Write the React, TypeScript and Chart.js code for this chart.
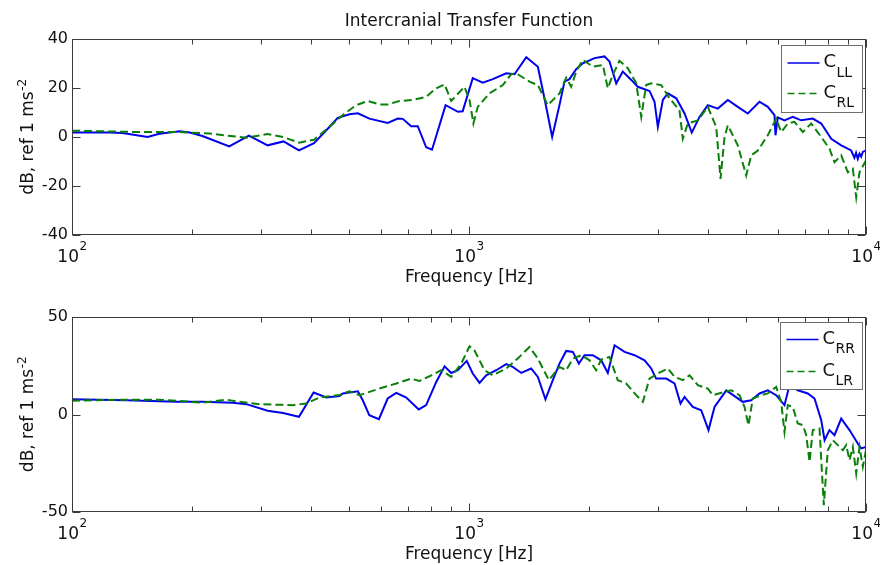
import React, { useEffect, useRef } from "react";
import { Chart, registerables } from "chart.js";

Chart.register(...registerables);

// ---------------- data ----------------
const TITLE = "Intercranial Transfer Function";
const X_LABEL = "Frequency [Hz]";
const Y_LABEL = "dB, ref 1 ms";
const Y_LABEL_SUP = "-2";

const X_MIN = 100;
const X_MAX = 10000;
const X_MAJOR_TICKS = [100, 1000, 10000];
const X_MAJOR_BASE = "10";
const X_MAJOR_EXP = ["2", "3", "4"];
const X_MINOR_TICKS = [200, 300, 400, 500, 600, 700, 800, 900, 2000, 3000, 4000, 5000, 6000, 7000, 8000, 9000];

const TOP_Y_TICKS = [-40, -20, 0, 20, 40];
const BOTTOM_Y_TICKS = [-50, 0, 50];

// Top plot: C_LL (solid blue) and C_RL (dashed green)
const cllFreq = [100, 124, 134, 155, 166, 187, 198, 213, 249, 279, 311, 341, 373, 407, 445, 467, 500, 525, 561, 624, 662, 681, 715, 743, 780, 807, 873, 938, 964, 1022, 1083, 1148, 1241, 1302, 1394, 1491, 1549, 1620, 1690, 1740, 1791, 1862, 1935, 2071, 2194, 2259, 2349, 2440, 2563, 2662, 2849, 2933, 2990, 3078, 3168, 3327, 3491, 3641, 3807, 3995, 4234, 4487, 4754, 5038, 5392, 5657, 5882, 5916, 5995, 6232, 6540, 6868, 7345, 7714, 8174, 8661, 9177, 9350, 9440, 9535, 9630, 9725, 9817, 10000];
const cllDb = [1.8, 1.8, 1.6, 0, 1.3, 2.3, 1.8, 0.4, -3.8, 0.6, -3.4, -1.8, -5.5, -2.5, 4.1, 7.8, 9.3, 9.7, 7.5, 5.7, 7.5, 7.4, 4.4, 4.4, -4.2, -5.2, 13, 10.3, 10.5, 24, 22.2, 23.6, 26, 25.6, 32.6, 28.7, 15.8, 0, 13, 22.6, 23.6, 27.7, 30.1, 32.2, 32.9, 30.8, 21.9, 26.7, 23.3, 20.5, 18.8, 14.4, 4.1, 15.1, 17.8, 15.8, 9.6, 1.8, 8.2, 13, 11.6, 15.1, 12.3, 9.6, 14.4, 12.3, 8.9, 0.7, 8, 6.8, 8.2, 6.8, 7.5, 5.5, -0.7, -3.4, -5.5, -8.5, -6.5, -8.9, -6.8, -8, -6.1, -5.5];

const crlFreq = [100, 137, 187, 222, 275, 311, 340, 373, 407, 445, 481, 520, 556, 595, 624, 668, 722, 780, 827, 868, 902, 974, 1003, 1026, 1052, 1126, 1217, 1277, 1315, 1420, 1491, 1579, 1690, 1757, 1809, 1862, 1935, 2050, 2173, 2237, 2302, 2393, 2512, 2638, 2716, 2794, 2876, 3049, 3199, 3390, 3456, 3557, 3771, 3995, 4195, 4301, 4402, 4487, 4754, 4991, 5139, 5341, 5657, 5940, 6114, 6353, 6605, 6932, 7278, 7714, 8091, 8330, 8661, 9000, 9265, 9448, 9630, 10000];
const crlDb = [2.6, 2.1, 2.0, 1.4, -0.3, 1.2, 0, -2.3, -1.1, 4.1, 9.0, 13, 14.7, 13.3, 13.3, 14.7, 15.1, 16.4, 19.9, 21.5, 14.7, 20.5, 15.1, 5.5, 12.3, 17.8, 21.2, 25.6, 26, 22.6, 21.2, 13, 17.8, 24.2, 20.5, 26.7, 31.5, 28.7, 29.4, 19.9, 25.3, 31.1, 28.1, 21.9, 8.2, 21.2, 21.9, 21.2, 15.8, 10.9, -0.7, 5.5, 6.8, 12.3, 4.1, -17.1, 0, 4.8, -3.4, -15.7, -7.5, -5.5, 0.7, 7.5, 2, 5.5, 6.2, 2, 5.5, 0, -4.8, -10.3, -7.5, -14.4, -13, -24.6, -14.4, -9.6];

// Bottom plot: C_RR (solid blue) and C_LR (dashed green)
const crrFreq = [100, 137, 183, 213, 254, 275, 311, 340, 373, 406, 437, 472, 481, 525, 540, 561, 593, 624, 656, 695, 747, 780, 827, 868, 902, 937, 987, 1022, 1063, 1105, 1171, 1241, 1289, 1354, 1434, 1491, 1558, 1626, 1690, 1757, 1826, 1891, 1954, 2050, 2153, 2237, 2326, 2465, 2612, 2768, 2877, 2961, 3138, 3294, 3410, 3491, 3662, 3845, 4011, 4154, 4446, 4665, 4894, 5139, 5392, 5657, 5940, 6232, 6416, 6733, 7135, 7419, 7714, 7864, 8091, 8330, 8661, 9087, 9535, 9725, 10000];
const crrDb = [7.8, 7.3, 6.5, 6.5, 6, 5.3, 1.9, 0.8, -1.2, 11.3, 8.7, 9.5, 10.8, 11.9, 7.3, -0.4, -2.4, 8.2, 11.1, 8.7, 2.6, 4.8, 16.7, 24.7, 21.3, 22.7, 27.5, 21, 16.2, 20.1, 22.7, 25.8, 24.4, 21.3, 23.6, 19.3, 7.8, 17.6, 26.1, 32.6, 32.1, 26.1, 30.4, 30.4, 27.8, 21.3, 35.5, 32.1, 30.4, 27.8, 23.6, 18.4, 18.4, 15.9, 5.6, 9, 3.9, 2.2, -8, 3.9, 12.4, 9.4, 6.5, 7.3, 10.8, 12.4, 9.9, 4.8, 15, 12.4, 10.8, 8.2, -2.9, -13.2, -8, -10.6, -2.1, -8, -14.9, -17.4, -16.6];

const clrFreq = [100, 137, 166, 213, 245, 264, 297, 360, 389, 420, 472, 500, 530, 595, 656, 715, 750, 795, 851, 902, 956, 1003, 1032, 1094, 1148, 1241, 1327, 1420, 1491, 1589, 1690, 1757, 1826, 1917, 2012, 2091, 2153, 2259, 2370, 2489, 2638, 2741, 2849, 2990, 3168, 3294, 3456, 3593, 3771, 3995, 4113, 4402, 4577, 4801, 4943, 5058, 5186, 5445, 5657, 5940, 6114, 6232, 6353, 6540, 6733, 6932, 7071, 7208, 7345, 7636, 7829, 8013, 8249, 8492, 8742, 8916, 9087, 9265, 9448, 9630, 9817, 10000];
const clrDb = [7.1, 7.6, 7.6, 6.1, 7.6, 6.5, 5.3, 4.8, 5.6, 8.7, 10, 11.9, 9.9, 13.3, 15.9, 18.4, 17.2, 19.6, 22.7, 19.3, 26.1, 35, 32.9, 22.7, 20.1, 23.6, 28.7, 34.6, 28.7, 17.6, 24.4, 22.7, 28.7, 30.4, 27.8, 22.7, 28.2, 29.5, 17.6, 15.9, 9.9, 6.5, 18.4, 21, 23.6, 19.3, 17.6, 20.1, 15, 13.3, 9.9, 11.6, 12.4, 9.9, 3.9, -5.5, 8.2, 9.9, 10.8, 14.1, 6.5, -8.9, 4.8, 3.9, -4.6, -5.5, -10.6, -24.3, -8, -7.2, -46.5, -18.3, -13.2, -15.7, -18.3, -15.7, -23.4, -16.6, -30.2, -16.6, -26.8, -18.3];

// ---------------- style ----------------
const FONT = '"DejaVu Sans", "Liberation Sans", Arial, sans-serif';
const BLUE = "#0000ee";
const GREEN = "#0a800a";
const AXIS_COLOR = "#3a3a3a";
const TEXT_COLOR = "#111111";

type Series = { name: string; sub: string; freq: number[]; db: number[]; color: string; dash: number[] };

type PlotSpec = {
  key: string;
  top: number;
  height: number;
  padTop: number;
  xHeight: number;
  yMin: number;
  yMax: number;
  yStep: number;
  yTicks: number[];
  title?: string;
  series: Series[];
  legend: { dx: number; dy: number; w: number; h: number; rows: number[] };
};

function makePlugin(spec: PlotSpec) {
  return {
    id: "matlabFrame_" + spec.key,
    afterDraw(chart: any) {
      const { ctx, chartArea: a } = chart;
      const xs = chart.scales.x;
      const ys = chart.scales.y;
      ctx.save();

      const L = Math.round(a.left) + 0.5;
      const R = Math.round(a.right) - 0.5;
      const T = Math.round(a.top) + 0.5;
      const B = Math.round(a.bottom) - 0.5;

      // axes box
      ctx.strokeStyle = AXIS_COLOR;
      ctx.lineWidth = 1;
      ctx.setLineDash([]);
      ctx.strokeRect(L, T, R - L, B - T);

      // tick marks (inward, both sides)
      ctx.beginPath();
      const xt = (v: number, len: number) => {
        const px = Math.round(xs.getPixelForValue(v)) + 0.5;
        ctx.moveTo(px, B);
        ctx.lineTo(px, B - len);
        ctx.moveTo(px, T);
        ctx.lineTo(px, T + len);
      };
      X_MINOR_TICKS.forEach((v) => xt(v, 5));
      X_MAJOR_TICKS.forEach((v) => xt(v, 8));
      spec.yTicks.forEach((v) => {
        const py = Math.round(ys.getPixelForValue(v)) + 0.5;
        ctx.moveTo(L, py);
        ctx.lineTo(L + 8, py);
        ctx.moveTo(R, py);
        ctx.lineTo(R - 8, py);
      });
      ctx.stroke();

      ctx.fillStyle = TEXT_COLOR;
      ctx.textBaseline = "alphabetic";
      ctx.textAlign = "left";

      // x tick labels 10^n
      X_MAJOR_TICKS.forEach((v, i) => {
        const px = xs.getPixelForValue(v);
        ctx.font = `17px ${FONT}`;
        const w1 = ctx.measureText(X_MAJOR_BASE).width;
        ctx.font = `12px ${FONT}`;
        const w2 = ctx.measureText(X_MAJOR_EXP[i]).width;
        const x0 = px - (w1 + w2) / 2;
        ctx.font = `17px ${FONT}`;
        ctx.fillText(X_MAJOR_BASE, x0, a.bottom + 27);
        ctx.font = `12px ${FONT}`;
        ctx.fillText(X_MAJOR_EXP[i], x0 + w1 + 0.5, a.bottom + 15);
      });

      // x axis label
      ctx.font = `17px ${FONT}`;
      ctx.textAlign = "center";
      ctx.fillText(X_LABEL, (a.left + a.right) / 2, a.bottom + 46.5);

      // title
      if (spec.title) {
        ctx.fillText(spec.title, (a.left + a.right) / 2, a.top - 13);
      }

      // y axis label (rotated, with superscript)
      ctx.save();
      ctx.translate(33, (a.top + a.bottom) / 2);
      ctx.rotate(-Math.PI / 2);
      ctx.textAlign = "left";
      ctx.font = `17px ${FONT}`;
      const m1 = ctx.measureText(Y_LABEL).width;
      ctx.font = `12px ${FONT}`;
      const m2 = ctx.measureText(Y_LABEL_SUP).width;
      const start = -(m1 + m2) / 2;
      ctx.font = `17px ${FONT}`;
      ctx.fillText(Y_LABEL, start, 0);
      ctx.font = `12px ${FONT}`;
      ctx.fillText(Y_LABEL_SUP, start + m1 + 0.5, -7.5);
      ctx.restore();

      // legend box
      const lg = spec.legend;
      const bx = Math.round(a.right - lg.dx) + 0.5;
      const by = Math.round(a.top + lg.dy) + 0.5;
      ctx.fillStyle = "#ffffff";
      ctx.fillRect(bx, by, lg.w, lg.h);
      ctx.strokeStyle = "#6e6e6e";
      ctx.lineWidth = 1;
      ctx.strokeRect(bx, by, lg.w, lg.h);
      spec.series.forEach((s, i) => {
        const ly = by + lg.rows[i];
        ctx.strokeStyle = s.color;
        ctx.lineWidth = 1.5;
        ctx.setLineDash(s.dash.length ? [7, 4] : []);
        ctx.beginPath();
        ctx.moveTo(bx + 6, ly);
        ctx.lineTo(bx + 38, ly);
        ctx.stroke();
        ctx.setLineDash([]);
        ctx.fillStyle = TEXT_COLOR;
        ctx.textAlign = "left";
        ctx.font = `18px ${FONT}`;
        ctx.fillText(s.name, bx + 42, ly + 4);
        const cw = ctx.measureText(s.name).width;
        ctx.font = `14px ${FONT}`;
        ctx.fillText(s.sub, bx + 42 + cw + 0.5, ly + 13.5);
      });

      ctx.restore();
    },
  };
}

function buildConfig(spec: PlotSpec): any {
  // draw the dashed (second) series on top of the solid one
  const ordered = [spec.series[1], spec.series[0]];
  return {
    type: "line",
    data: {
      datasets: ordered.map((s) => ({
        label: s.name + s.sub,
        data: s.freq.map((f, i) => ({ x: f, y: s.db[i] })),
        borderColor: s.color,
        backgroundColor: s.color,
        borderWidth: 2,
        borderDash: s.dash,
        pointRadius: 0,
        tension: 0,
        fill: false,
      })),
    },
    options: {
      animation: false,
      responsive: false,
      maintainAspectRatio: false,
      layout: { padding: { top: spec.padTop, right: 14, left: 0, bottom: 0 } },
      plugins: {
        legend: { display: false },
        tooltip: { enabled: false },
        title: { display: false },
      },
      scales: {
        x: {
          type: "logarithmic",
          min: X_MIN,
          max: X_MAX,
          grid: { display: false, drawTicks: false },
          border: { display: false },
          ticks: { display: false },
          afterFit: (s: any) => {
            s.height = spec.xHeight;
          },
        },
        y: {
          type: "linear",
          min: spec.yMin,
          max: spec.yMax,
          grid: { display: false, drawTicks: false },
          border: { display: false },
          ticks: {
            stepSize: spec.yStep,
            color: TEXT_COLOR,
            padding: 4,
            font: { family: FONT, size: 16 },
          },
          afterBuildTicks: (s: any) => {
            s.ticks = spec.yTicks.map((v) => ({ value: v }));
          },
          afterFit: (s: any) => {
            s.width = 72;
          },
        },
      },
    },
    plugins: [makePlugin(spec)],
  };
}

const TOP_SPEC: PlotSpec = {
  key: "top",
  top: 0,
  height: 290,
  padTop: 39,
  xHeight: 55,
  yMin: -40,
  yMax: 40,
  yStep: 20,
  yTicks: TOP_Y_TICKS,
  title: TITLE,
  series: [
    { name: "C", sub: "LL", freq: cllFreq, db: cllDb, color: BLUE, dash: [] },
    { name: "C", sub: "RL", freq: crlFreq, db: crlDb, color: GREEN, dash: [8, 4] },
  ],
  legend: { dx: 85, dy: 6, w: 81, h: 67, rows: [17.5, 48] },
};

const BOTTOM_SPEC: PlotSpec = {
  key: "bottom",
  top: 290,
  height: 275,
  padTop: 27,
  xHeight: 53,
  yMin: -50,
  yMax: 50,
  yStep: 50,
  yTicks: BOTTOM_Y_TICKS,
  series: [
    { name: "C", sub: "RR", freq: crrFreq, db: crrDb, color: BLUE, dash: [] },
    { name: "C", sub: "LR", freq: clrFreq, db: clrDb, color: GREEN, dash: [8, 4] },
  ],
  legend: { dx: 86, dy: 5, w: 82, h: 67, rows: [17, 49] },
};

function Plot({ spec }: { spec: PlotSpec }) {
  const ref = useRef<HTMLCanvasElement | null>(null);
  useEffect(() => {
    if (!ref.current) return;
    const chart = new Chart(ref.current, buildConfig(spec));
    return () => chart.destroy();
  }, [spec]);
  return (
    <canvas
      ref={ref}
      width={880}
      height={spec.height}
      style={{ position: "absolute", left: 0, top: spec.top, width: 880, height: spec.height, display: "block" }}
    />
  );
}

export default function App() {
  return (
    <div style={{ position: "fixed", left: 0, top: 0, width: 880, height: 565, background: "#ffffff", overflow: "hidden" }}>
      <Plot spec={TOP_SPEC} />
      <Plot spec={BOTTOM_SPEC} />
    </div>
  );
}
